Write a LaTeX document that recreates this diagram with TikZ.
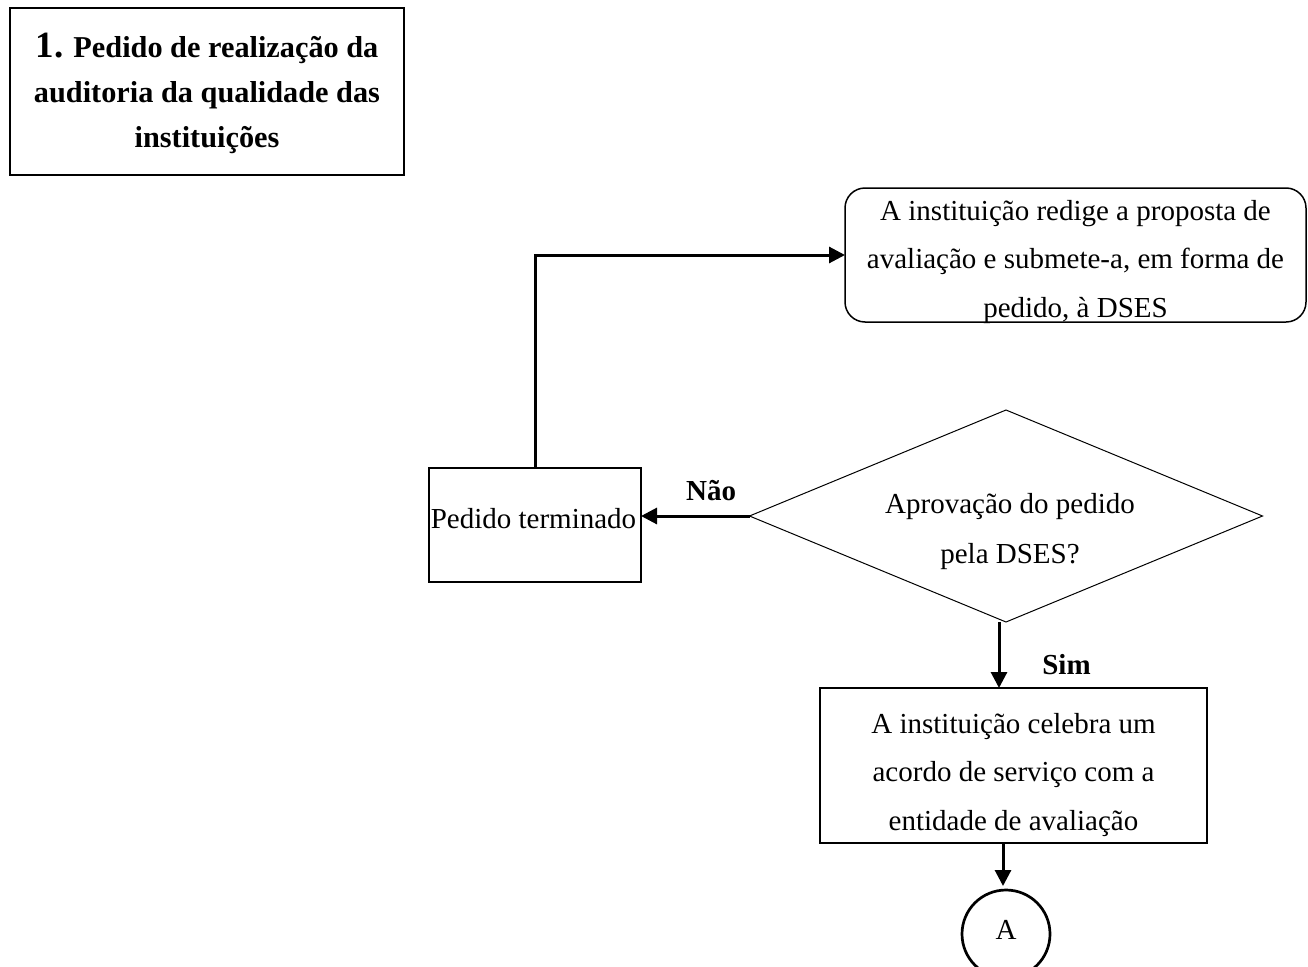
\documentclass[tikz,border=0pt]{standalone}
\usepackage{fontspec}
\setmainfont{Liberation Serif}
\usetikzlibrary{arrows.meta,shapes.geometric}
\begin{document}
\begin{tikzpicture}[x=1pt,y=-1pt,
  base/.style={draw=black, inner sep=0pt, outer sep=0pt},
  txt/.style={font=\fontsize{29}{48.5}\selectfont, align=center, inner sep=0pt},
  conn/.style={line width=3pt, -{Triangle[length=16pt,width=16pt]}},
  edgelbl/.style={font=\fontsize{29}{35}\selectfont\bfseries, inner sep=0pt}
]
\clip (0,0) rectangle (1308,966);

\node[base, line width=2.7pt, minimum width=394pt, minimum height=167pt,
  label={[txt, font=\fontsize{30.3}{45}\selectfont\bfseries, yshift=-2.15pt]center:{{\fontsize{37}{45}\selectfont 1.} Pedido de realização da\\auditoria da qualidade das\\instituições}}]
  (title) at (207,91.5) {};

\node[base, line width=1.5pt, rounded corners=20pt, minimum width=461pt, minimum height=134pt,
  label={[txt, yshift=-6.75pt]center:{A instituição redige a proposta de\\avaliação e submete-a, em forma de\\pedido, à DSES}}]
  (rb) at (1075.5,255) {};

\node[base, line width=1.2pt, minimum width=212pt, minimum height=114pt,
  label={[txt, yshift=6.9pt, xshift=-1.5pt]center:{Pedido terminado}}]
  (pt) at (535,525) {};

\node[base, diamond, line width=1pt, minimum width=513pt, minimum height=212pt,
  label={[txt, font=\fontsize{29}{50}\selectfont, xshift=4pt, yshift=-15.25pt]center:{Aprovação do pedido\\pela DSES?}}]
  (dm) at (1006,516) {};

\node[base, line width=2.7pt, minimum width=387pt, minimum height=155pt,
  label={[txt, yshift=-9.2pt]center:{A instituição celebra um\\acordo de serviço com a\\entidade de avaliação}}]
  (b3) at (1013.5,765.5) {};

\node[base, circle, line width=2.7pt, minimum size=88pt,
  label={[txt, yshift=4pt]center:{A}}]
  (ci) at (1006,934) {};

\draw[conn] (pt.north) |- (rb.west);

\draw[conn] (dm.west) -- node[edgelbl, pos=0.353, anchor=base, yshift=16pt] (nao) {Não} (dm.west -| pt.east);

\coordinate (s1) at ([xshift=-7pt]dm.south);
\draw[conn] (s1) -- node[edgelbl, pos=0.8, anchor=base, xshift=67.5pt] (sim) {Sim} (s1 |- b3.north);

\coordinate (c1) at ([xshift=-3pt]ci.north);
\draw[conn] (c1 |- b3.south) -- ([yshift=4pt]c1);
\end{tikzpicture}
\end{document}
